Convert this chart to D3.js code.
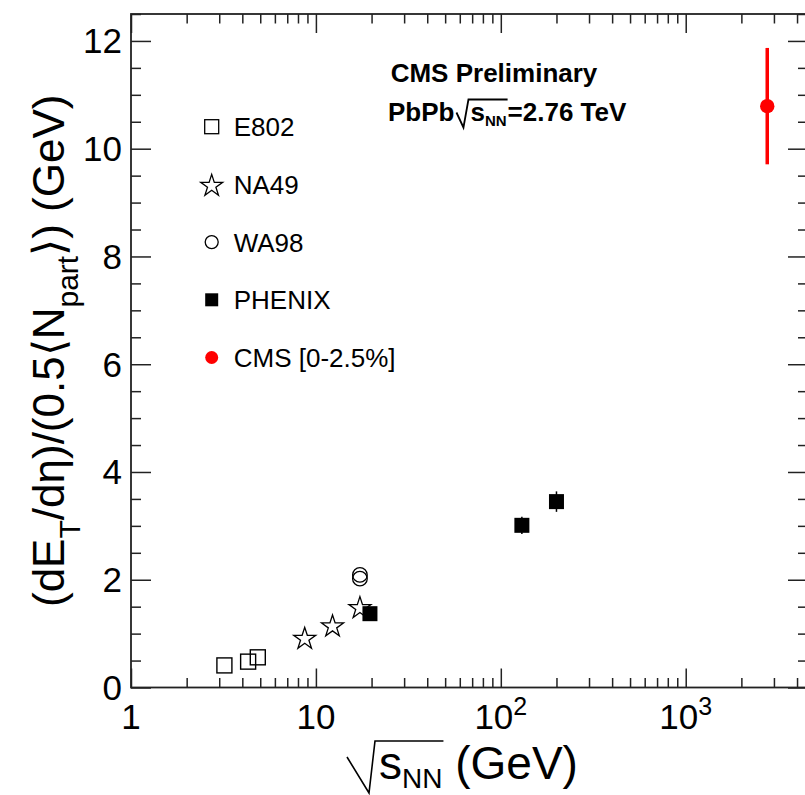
<!DOCTYPE html>
<meta charset="utf-8">
<style>
body { margin: 0; background: #fff; }
text { font-family: "Liberation Sans", Arial, sans-serif; fill: #000; }
.tick text { display: none; }
.axis path.domain { display: none; }
.axis line { stroke: #222; stroke-width: 1.5; }
.lbl { font-size: 35px; }
.leg { font-size: 26px; }
.ttl { font-size: 44px; }
.cms { font-size: 26px; font-weight: bold; }
</style>
<body>
<script src="https://cdn.jsdelivr.net/npm/d3@7"></script>
<script>

// data
var e802X = [3.2, 4.3, 4.85];
var e802Y = [0.41, 0.48, 0.56];
var na49X = [8.7, 12.3, 17.3];
var na49Y = [0.93, 1.16, 1.50];
var wa98X = [17.3, 17.3];
var wa98Y = [2.09, 2.02];
var phenixX = [19.6, 130, 200];
var phenixY = [1.37, 3.01, 3.45];
var phenixErr = [0.1, 0.16, 0.19];
var cmsX = [2760];
var cmsY = [10.79];
var cmsErr = [1.08];

var legendNames = ["E802", "NA49", "WA98", "PHENIX", "CMS [0-2.5%]"];
var xMajor = [1, 10, 100, 1000];
var xMajorLabels = [["1", ""], ["10", ""], ["10", "2"], ["10", "3"]];
var yMajor = [0, 2, 4, 6, 8, 10, 12];

// frame, the right edge sits just past the window like in the original
var margin = {top: 14, right: -3, bottom: 107.5, left: 131},
    width = 808 - margin.left,
    height = 687.5 - margin.top;

var x = d3.scaleLog().domain([1, 4585]).range([0, width]);
var y = d3.scaleLinear().domain([0, 12.5]).range([height, 0]);

// minor tick values
var xMinor = [];
[1, 10, 100, 1000].forEach(function(d) {
  for (var k = 2; k <= 9; k++) { if (d * k <= 4585) xMinor.push(d * k); }
});
var yMinor = d3.range(0, 12.51, 0.5).filter(function(v) { return v % 2 != 0; });

var page = d3.select("body").append("svg")
    .attr("width", 805)
    .attr("height", 795);
var svg = page.append("g")
    .attr("transform", "translate(" + margin.left + "," + margin.top + ")");

// ticks on all four sides, pointing inward
function addAxis(gen, vals, len, tx, ty) {
  svg.append("g")
    .attr("class", "axis")
    .attr("transform", "translate(" + tx + "," + ty + ")")
    .call(gen.tickValues(vals).tickSize(-len).tickFormat(""));
}
addAxis(d3.axisBottom(x), xMajor, 19, 0, height);
addAxis(d3.axisBottom(x), xMinor, 9.5, 0, height);
addAxis(d3.axisTop(x), xMajor, 19, 0, 0);
addAxis(d3.axisTop(x), xMinor, 9.5, 0, 0);
addAxis(d3.axisLeft(y), yMajor, 20, 0, 0);
addAxis(d3.axisLeft(y), yMinor, 10, 0, 0);
addAxis(d3.axisRight(y), yMajor, 20, width, 0);
addAxis(d3.axisRight(y), yMinor, 10, width, 0);

svg.append("rect")
    .attr("width", width)
    .attr("height", height)
    .attr("fill", "none")
    .attr("stroke", "#222")
    .attr("stroke-width", 1.8);

// tick labels
var xl = svg.selectAll(".xlab")
    .data(xMajor)
  .enter().append("text")
    .attr("class", "lbl")
    .attr("text-anchor", "middle")
    .attr("x", function(d) { return x(d); })
    .attr("y", height + 41);
xl.append("tspan").text(function(d, i) { return xMajorLabels[i][0]; });
xl.append("tspan")
    .attr("dy", -14)
    .style("font-size", "25px")
    .text(function(d, i) { return xMajorLabels[i][1]; });

svg.selectAll(".ylab")
    .data(yMajor)
  .enter().append("text")
    .attr("class", "lbl")
    .attr("text-anchor", "end")
    .attr("x", -9)
    .attr("y", function(d) { return y(d) + 12.5; })
    .text(function(d) { return d; });

// markers
var sq = 15;
svg.selectAll(".e802")
    .data(e802X)
  .enter().append("rect")
    .attr("x", function(d) { return x(d) - sq / 2; })
    .attr("y", function(d, i) { return y(e802Y[i]) - sq / 2; })
    .attr("width", sq).attr("height", sq)
    .attr("fill", "none").attr("stroke", "#000").attr("stroke-width", 1.4);

var star = d3.symbol().type(d3.symbolStar).size(150);
svg.selectAll(".na49")
    .data(na49X)
  .enter().append("path")
    .attr("d", star)
    .attr("transform", function(d, i) { return "translate(" + x(d) + "," + (y(na49Y[i]) + 1.5) + ")"; })
    .attr("fill", "none").attr("stroke", "#000").attr("stroke-width", 1.3);

svg.selectAll(".wa98")
    .data(wa98X)
  .enter().append("circle")
    .attr("cx", function(d) { return x(d); })
    .attr("cy", function(d, i) { return y(wa98Y[i]); })
    .attr("r", 7.3)
    .attr("fill", "none").attr("stroke", "#000").attr("stroke-width", 1.3);

svg.selectAll(".phenixErr")
    .data(phenixX)
  .enter().append("line")
    .attr("x1", function(d) { return x(d); })
    .attr("x2", function(d) { return x(d); })
    .attr("y1", function(d, i) { return y(phenixY[i] + phenixErr[i]); })
    .attr("y2", function(d, i) { return y(phenixY[i] - phenixErr[i]); })
    .attr("stroke", "#000").attr("stroke-width", 1.5);
svg.selectAll(".phenix")
    .data(phenixX)
  .enter().append("rect")
    .attr("x", function(d) { return x(d) - sq / 2; })
    .attr("y", function(d, i) { return y(phenixY[i]) - sq / 2; })
    .attr("width", sq).attr("height", sq)
    .attr("fill", "#000");

svg.selectAll(".cmsErr")
    .data(cmsX)
  .enter().append("line")
    .attr("x1", function(d) { return x(d); })
    .attr("x2", function(d) { return x(d); })
    .attr("y1", function(d, i) { return y(cmsY[i] + cmsErr[i]); })
    .attr("y2", function(d, i) { return y(cmsY[i] - cmsErr[i]); })
    .attr("stroke", "#f00").attr("stroke-width", 3.5);
svg.selectAll(".cms")
    .data(cmsX)
  .enter().append("circle")
    .attr("cx", function(d) { return x(d); })
    .attr("cy", function(d, i) { return y(cmsY[i]); })
    .attr("r", 7.2)
    .attr("fill", "#f00");

// legend
var leg = svg.selectAll(".legitem")
    .data(legendNames)
  .enter().append("g")
    .attr("transform", function(d, i) { return "translate(" + (211.7 - margin.left) + "," + (126.7 - margin.top + i * 57.7) + ")"; });
leg.append("text")
    .attr("class", "leg")
    .attr("x", 22)
    .attr("y", 9.5)
    .text(function(d) { return d; });
leg.each(function(d, i) {
  var g = d3.select(this);
  if (i == 0) g.append("rect").attr("x", -7).attr("y", -7).attr("width", 14).attr("height", 14)
      .attr("fill", "none").attr("stroke", "#000").attr("stroke-width", 1.3);
  if (i == 1) g.append("path").attr("d", star).attr("transform", "translate(0,1.5)")
      .attr("fill", "none").attr("stroke", "#000").attr("stroke-width", 1.3);
  if (i == 2) g.append("circle").attr("r", 6.5)
      .attr("fill", "none").attr("stroke", "#000").attr("stroke-width", 1.3);
  if (i == 3) g.append("rect").attr("x", -6.5).attr("y", -6.5).attr("width", 13).attr("height", 13)
      .attr("fill", "#000");
  if (i == 4) g.append("circle").attr("r", 6.5).attr("fill", "#f00");
});

// ROOT style sqrt: radical drawn as a path, bar over s_NN
// o.rad = [[dx,dy] start, bottom, top] relative to the end of the prefix and the baseline
function sqrtText(sel, px, py, o) {
  var t = sel.append("text")
      .attr("x", px).attr("y", py)
      .style("font-size", o.size + "px")
      .style("font-weight", o.bold ? "bold" : "normal");
  t.append("tspan").text(o.pre);
  t.append("tspan").attr("dx", o.gap).text("s");
  t.append("tspan").attr("dy", o.subDy).style("font-size", o.subSize + "px").text("NN");
  t.append("tspan").attr("dy", -o.subDy).attr("dx", o.post.charAt(0) == " " ? 0 : 1).text(o.post);
  var n = t.node();
  var x0 = o.pre.length ? n.getEndPositionOfChar(o.pre.length - 1).x : px;
  var x1 = n.getEndPositionOfChar(o.pre.length + 2).x + 1;
  var r = o.rad;
  var pts = [[x0 + r[0][0], py + r[0][1]], [x0 + r[1][0], py + r[1][1]],
             [x0 + r[2][0], py + r[2][1]], [x1, py + r[2][1]]];
  sel.append("path")
      .attr("d", d3.line()(pts))
      .attr("fill", "none")
      .attr("stroke", "#000")
      .attr("stroke-width", o.bold ? 1.8 : 1.6);
  return t;
}

page.append("text")
    .attr("class", "cms")
    .attr("x", 494).attr("y", 82)
    .attr("text-anchor", "middle")
    .text("CMS Preliminary");
sqrtText(page, 388, 120.5, {size: 26, bold: true, pre: "PbPb", post: "=2.76 TeV",
  gap: 16, subSize: 15, subDy: 5, rad: [[2, -8], [9, 7], [14, -21]]});

// x axis title
sqrtText(page, 347, 779, {size: 46, bold: false, pre: "", post: " (GeV)",
  gap: 32, subSize: 28, subDy: 9, rad: [[0, -22], [22, 14], [28, -38]]});

// y axis title
var yt = page.append("text")
    .attr("class", "ttl")
    .attr("transform", "translate(64,607) rotate(-90)");
yt.append("tspan").text("(dE");
yt.append("tspan").attr("dy", 16).style("font-size", "30px").text("T");
yt.append("tspan").attr("dy", -16).text("/d\u03B7)/(0.5\u27E8N");
yt.append("tspan").attr("dy", 14).style("font-size", "30px").text("part");
yt.append("tspan").attr("dy", -14).text("\u27E9) (GeV)");

</script>
</body>
